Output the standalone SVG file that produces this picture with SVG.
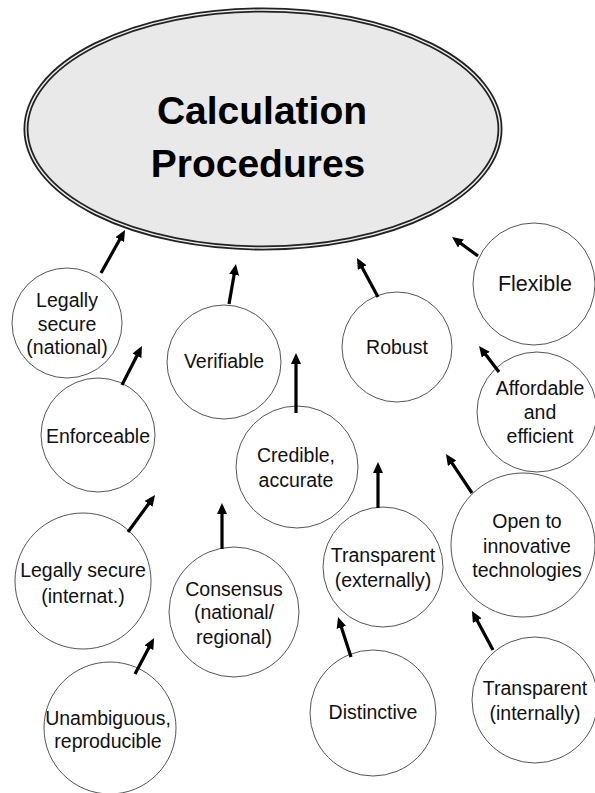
<svg xmlns="http://www.w3.org/2000/svg" width="595" height="793" viewBox="0 0 595 793">
<style>
.node circle{fill:#fff;stroke:#555;stroke-width:1}
.node text{font-family:"Liberation Sans",Arial,sans-serif;font-size:19.5px;fill:#111;text-anchor:middle}
.conn line{stroke:#000;stroke-width:3.2}
.title{font-family:"Liberation Sans",Arial,sans-serif;font-weight:bold;font-size:39px;fill:#000;text-anchor:middle}
</style>
<defs>
<marker id="ah" markerUnits="userSpaceOnUse" markerWidth="12" markerHeight="11" refX="3" refY="5" orient="auto">
<path d="M0,0 L11,5 L0,10 z" fill="#000"/>
</marker>
</defs>
<rect width="595" height="793" fill="#fff"/>
<g id="main">
<ellipse cx="263" cy="129" rx="237" ry="119" fill="#e9e9e9" stroke="#222" stroke-width="5"/>
<ellipse cx="263" cy="129" rx="237" ry="119" fill="none" stroke="#eee" stroke-width="1.4"/>
<text class="title" x="262" y="124">Calculation</text>
<text class="title" x="258" y="177">Procedures</text>
</g>
<g id="legally-national" class="node"><circle cx="67" cy="323" r="55"/><text x="67" y="307">Legally</text><text x="67" y="331">secure</text><text x="67" y="354">(national)</text></g>
<g id="verifiable" class="node"><circle cx="224" cy="362" r="57"/><text x="224" y="368">Verifiable</text></g>
<g id="enforceable" class="node"><circle cx="98" cy="435" r="57"/><text x="98" y="443">Enforceable</text></g>
<g id="credible" class="node"><circle cx="297" cy="467" r="61"/><text x="296" y="462">Credible,</text><text x="296" y="487">accurate</text></g>
<g id="robust" class="node"><circle cx="397" cy="347" r="55"/><text x="397" y="354">Robust</text></g>
<g id="flexible" class="node"><circle cx="534" cy="284" r="61"/><text x="535" y="291" style="font-size:21.5px">Flexible</text></g>
<g id="affordable" class="node"><circle cx="537" cy="412" r="60"/><text x="540" y="395">Affordable</text><text x="540" y="419">and</text><text x="540" y="443">efficient</text></g>
<g id="open" class="node"><circle cx="523" cy="545" r="72"/><text x="527" y="528">Open to</text><text x="527" y="553">innovative</text><text x="527" y="577">technologies</text></g>
<g id="transparent-ext" class="node"><circle cx="383" cy="567" r="60"/><text x="383" y="562">Transparent</text><text x="383" y="587">(externally)</text></g>
<g id="legally-internat" class="node"><circle cx="83" cy="581" r="68"/><text x="83" y="577">Legally secure</text><text x="83" y="603">(internat.)</text></g>
<g id="consensus" class="node"><circle cx="234" cy="612" r="65"/><text x="234" y="596">Consensus</text><text x="234" y="619">(national/</text><text x="234" y="644">regional)</text></g>
<g id="unambiguous" class="node"><circle cx="110" cy="728" r="66"/><text x="108" y="725">Unambiguous,</text><text x="108" y="748">reproducible</text></g>
<g id="distinctive" class="node"><circle cx="373" cy="713" r="63"/><text x="373" y="719">Distinctive</text></g>
<g id="transparent-int" class="node"><circle cx="535" cy="700" r="63"/><text x="535" y="695">Transparent</text><text x="535" y="720">(internally)</text></g>
<g id="connectors" class="conn">
<line x1="101" y1="273" x2="121.1" y2="237" marker-end="url(#ah)"/>
<line x1="229" y1="304" x2="234.6" y2="271.9" marker-end="url(#ah)"/>
<line x1="122" y1="385" x2="138.3" y2="353.1" marker-end="url(#ah)"/>
<line x1="296" y1="413" x2="296" y2="361" marker-end="url(#ah)"/>
<line x1="478" y1="256" x2="458.5" y2="241.7" marker-end="url(#ah)"/>
<line x1="378" y1="297" x2="360.8" y2="265" marker-end="url(#ah)"/>
<line x1="499" y1="372" x2="483.9" y2="352.3" marker-end="url(#ah)"/>
<line x1="472" y1="493" x2="450.4" y2="460.7" marker-end="url(#ah)"/>
<line x1="378" y1="508" x2="378" y2="470" marker-end="url(#ah)"/>
<line x1="351" y1="657" x2="340.5" y2="624.6" marker-end="url(#ah)"/>
<line x1="493" y1="650" x2="475.8" y2="618" marker-end="url(#ah)"/>
<line x1="128" y1="532" x2="150.3" y2="501.5" marker-end="url(#ah)"/>
<line x1="222" y1="549" x2="222" y2="511" marker-end="url(#ah)"/>
<line x1="135" y1="674" x2="150.3" y2="645.1" marker-end="url(#ah)"/>
</g>
</svg>
